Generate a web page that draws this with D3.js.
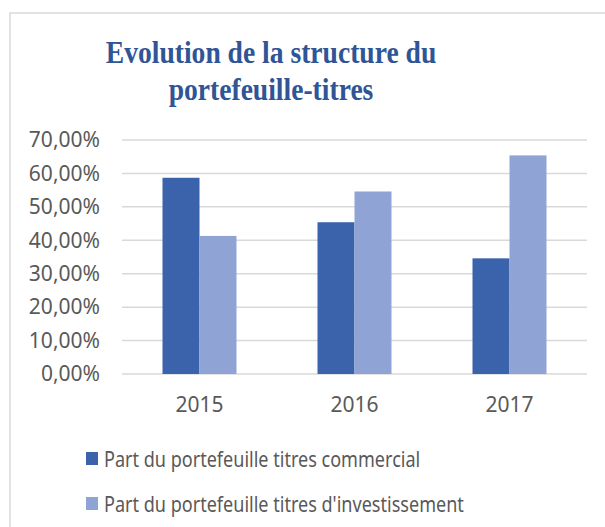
<!DOCTYPE html>
<html>
<head>
<meta charset="utf-8">
<script src="https://cdn.jsdelivr.net/npm/d3@7"></script>
<style>
  body { margin: 0; background: #fff; }
  svg { display: block; }
</style>
</head>
<body>
<div id="chart"></div>
<script>
// Chart data
const years = ["2015", "2016", "2017"];
const commercial = [58.7, 45.4, 34.6];
const investissement = [41.3, 54.6, 65.4];
const seriesNames = ["Part du portefeuille titres commercial", "Part du portefeuille titres d'investissement"];
const yTicks = [0, 10, 20, 30, 40, 50, 60, 70];
const titleLines = ["Evolution de la structure du", "portefeuille-titres"];

const colors = ["#3b63ab", "#8fa4d4"];
const W = 605, H = 527;
const margin = { top: 140, right: 18, bottom: 153, left: 122 };
const width = W - margin.left - margin.right;
const height = H - margin.top - margin.bottom;

const svg = d3.select("#chart")
    .append("svg")
    .attr("width", W)
    .attr("height", H);

// Chart frame (runs off the right and bottom edges)
svg.append("rect")
    .attr("x", 10)
    .attr("y", 13)
    .attr("width", 700)
    .attr("height", 700)
    .attr("fill", "none")
    .attr("stroke", "#d9d9d9")
    .attr("stroke-width", 1.5);

// Title, slightly condensed like the original
svg.append("text")
    .attr("transform", "translate(271,63) scale(0.89,1)")
    .attr("text-anchor", "middle")
    .attr("font-family", "'Liberation Serif', 'Times New Roman', serif")
    .attr("font-weight", "bold")
    .attr("font-size", 31)
    .attr("fill", "#2f5597")
    .selectAll("tspan")
    .data(titleLines)
    .enter()
    .append("tspan")
    .attr("x", 0)
    .attr("dy", (d, i) => i === 0 ? 0 : 37)
    .text(d => d);

const g = svg.append("g")
    .attr("transform", `translate(${margin.left},${margin.top})`);

const x = d3.scaleBand()
    .domain(years)
    .range([0, width]);

const x1 = d3.scaleBand()
    .domain([0, 1])
    .range([0, 74])
    .padding(0);

const y = d3.scaleLinear()
    .domain([0, 70])
    .range([height, 0]);

// Gridlines
g.append("g")
    .selectAll("line")
    .data(yTicks)
    .enter()
    .append("line")
    .attr("x1", 0)
    .attr("x2", width)
    .attr("y1", d => y(d))
    .attr("y2", d => y(d))
    .attr("stroke", "#d9d9d9")
    .attr("stroke-width", 1.5);

// Y axis labels
const yAxis = g.append("g")
    .call(d3.axisLeft(y).tickValues(yTicks).tickSize(0).tickPadding(22)
        .tickFormat(d => d3.format(".2f")(d).replace(".", ",") + "%"));
yAxis.select(".domain").remove();
yAxis.selectAll("text")
    .attr("font-family", "'Noto Sans', sans-serif")
    .attr("font-size", 21)
    .attr("fill", "#595959");

// Bars
const rows = years.map((yr, i) => ({ year: yr, values: [commercial[i], investissement[i]] }));
const groups = g.selectAll(".year")
    .data(rows)
    .enter()
    .append("g")
    .attr("class", "year")
    .attr("transform", d => `translate(${x(d.year) + x.bandwidth() / 2 - 37},0)`);

groups.selectAll("rect")
    .data(d => d.values.map((v, k) => ({ k, v })))
    .enter()
    .append("rect")
    .attr("x", d => x1(d.k))
    .attr("y", d => y(d.v))
    .attr("width", x1.bandwidth())
    .attr("height", d => height - y(d.v))
    .attr("fill", d => colors[d.k]);

// X axis labels
const xAxis = g.append("g")
    .attr("transform", `translate(0,${height})`)
    .call(d3.axisBottom(x).tickSize(0).tickPadding(23));
xAxis.select(".domain").remove();
xAxis.selectAll("text")
    .attr("font-family", "'Noto Sans', sans-serif")
    .attr("font-size", 21)
    .attr("fill", "#595959");

// Legend
const legend = svg.append("g")
    .selectAll("g")
    .data(seriesNames)
    .enter()
    .append("g")
    .attr("transform", (d, i) => `translate(86,${452 + i * 45})`);

legend.append("rect")
    .attr("width", 12)
    .attr("height", 13)
    .attr("fill", (d, i) => colors[i]);

legend.append("text")
    .attr("transform", "translate(18,14.5) scale(0.84,1)")
    .attr("font-family", "'Noto Sans', sans-serif")
    .attr("font-size", 21.5)
    .attr("fill", "#595959")
    .text(d => d);
</script>
</body>
</html>
